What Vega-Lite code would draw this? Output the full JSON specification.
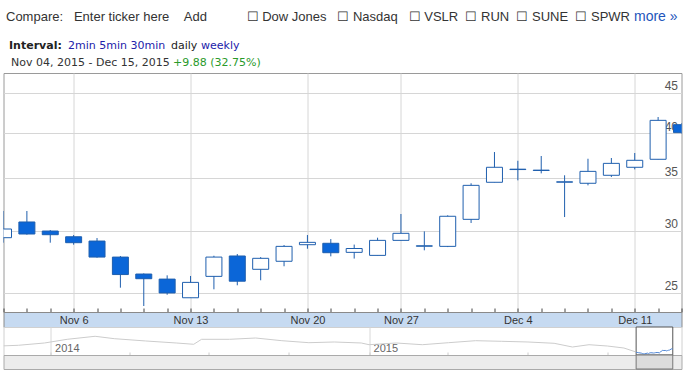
{
  "$schema": "https://vega.github.io/schema/vega-lite/v6.json",
  "background": "white",
  "padding": {"left": 2.5, "top": 8, "right": 0, "bottom": 0},
  "config": {
    "view": {"stroke": null},
    "font": "Liberation Sans",
    "axis": {"labelFont": "Liberation Sans", "titleFont": "DejaVu Sans", "titleFontWeight": "normal", "titleAnchor": null, "titleAlign": "left", "titleBaseline": "alphabetic", "titleAngle": 0}
  },
  "datasets": {
    "candles": [
      {"date": "2015-11-03", "open": 29.41, "high": 31.81, "low": 28.98, "close": 30.17},
      {"date": "2015-11-04", "open": 30.80, "high": 31.81, "low": 29.67, "close": 29.73},
      {"date": "2015-11-05", "open": 29.99, "high": 30.08, "low": 28.98, "close": 29.67},
      {"date": "2015-11-06", "open": 29.49, "high": 29.64, "low": 28.81, "close": 28.98},
      {"date": "2015-11-09", "open": 29.12, "high": 29.38, "low": 27.73, "close": 27.78},
      {"date": "2015-11-10", "open": 27.78, "high": 27.87, "low": 25.39, "close": 26.39},
      {"date": "2015-11-11", "open": 26.43, "high": 26.48, "low": 24.06, "close": 26.07},
      {"date": "2015-11-12", "open": 26.04, "high": 26.33, "low": 24.87, "close": 25.00},
      {"date": "2015-11-13", "open": 24.65, "high": 26.28, "low": 24.65, "close": 25.79},
      {"date": "2015-11-16", "open": 26.25, "high": 27.89, "low": 25.27, "close": 27.78},
      {"date": "2015-11-17", "open": 27.87, "high": 28.03, "low": 25.57, "close": 25.88},
      {"date": "2015-11-18", "open": 26.80, "high": 27.78, "low": 25.95, "close": 27.68},
      {"date": "2015-11-19", "open": 27.44, "high": 28.78, "low": 27.04, "close": 28.67},
      {"date": "2015-11-20", "open": 28.81, "high": 29.64, "low": 28.47, "close": 29.01},
      {"date": "2015-11-23", "open": 28.93, "high": 29.29, "low": 27.84, "close": 28.14},
      {"date": "2015-11-24", "open": 28.17, "high": 28.82, "low": 27.66, "close": 28.49},
      {"date": "2015-11-25", "open": 27.92, "high": 29.41, "low": 27.92, "close": 29.18},
      {"date": "2015-11-27", "open": 29.18, "high": 31.53, "low": 29.18, "close": 29.79},
      {"date": "2015-11-30", "open": 28.68, "high": 29.96, "low": 28.34, "close": 28.72},
      {"date": "2015-12-01", "open": 28.67, "high": 31.41, "low": 28.61, "close": 31.32},
      {"date": "2015-12-02", "open": 31.04, "high": 34.51, "low": 30.71, "close": 34.30},
      {"date": "2015-12-03", "open": 34.61, "high": 37.83, "low": 34.61, "close": 36.17},
      {"date": "2015-12-04", "open": 35.93, "high": 36.87, "low": 34.81, "close": 35.97},
      {"date": "2015-12-07", "open": 35.83, "high": 37.39, "low": 35.53, "close": 35.87},
      {"date": "2015-12-08", "open": 34.62, "high": 35.33, "low": 31.25, "close": 34.66},
      {"date": "2015-12-09", "open": 34.51, "high": 37.09, "low": 34.30, "close": 35.74},
      {"date": "2015-12-10", "open": 35.33, "high": 37.17, "low": 35.15, "close": 36.59},
      {"date": "2015-12-11", "open": 36.17, "high": 37.72, "low": 35.95, "close": 36.92},
      {"date": "2015-12-14", "open": 37.03, "high": 41.93, "low": 37.03, "close": 41.52},
      {"date": "2015-12-15", "open": 41.00, "high": 41.20, "low": 39.90, "close": 40.05}
    ],
    "history": [
      {"date": "2013-11-08", "close": 50.2},
      {"date": "2013-11-25", "close": 52.0},
      {"date": "2013-12-25", "close": 59.1},
      {"date": "2014-01-20", "close": 70.5},
      {"date": "2014-02-21", "close": 79.8},
      {"date": "2014-03-15", "close": 72.4},
      {"date": "2014-04-20", "close": 65.3},
      {"date": "2014-05-25", "close": 59.1},
      {"date": "2014-06-14", "close": 55.1},
      {"date": "2014-06-23", "close": 70.5},
      {"date": "2014-07-25", "close": 70.5},
      {"date": "2014-08-24", "close": 74.5},
      {"date": "2014-09-23", "close": 66.2},
      {"date": "2014-10-24", "close": 60.0},
      {"date": "2014-11-22", "close": 62.2},
      {"date": "2014-12-23", "close": 59.1},
      {"date": "2015-01-01", "close": 53.8},
      {"date": "2015-02-01", "close": 59.1},
      {"date": "2015-03-03", "close": 53.8},
      {"date": "2015-04-02", "close": 60.0},
      {"date": "2015-05-03", "close": 66.2},
      {"date": "2015-06-02", "close": 64.3},
      {"date": "2015-07-02", "close": 62.2},
      {"date": "2015-08-01", "close": 58.2},
      {"date": "2015-08-22", "close": 46.7},
      {"date": "2015-09-10", "close": 53.8},
      {"date": "2015-10-01", "close": 49.8},
      {"date": "2015-10-20", "close": 43.6},
      {"date": "2015-11-02", "close": 32.0}
    ]
  },
  "bounds": "flush",
  "spacing": 0,
  "vconcat": [
    {
      "width": 678,
      "height": 239,
      "view": {"stroke": "#9a9a9a"},
      "data": {"name": "candles"},
      "encoding": {
        "x": {
          "field": "date", "type": "ordinal",
          "scale": {"type": "point", "padding": 0},
          "axis": {
            "title": "more »", "titleX": 630, "titleY": -292,
            "titleColor": "#2255bb", "titleFont": "Liberation Sans", "titleFontSize": 14,
            "labels": false, "domain": false, "ticks": true, "tickSize": -4, "tickColor": "#444444",
            "grid": true, "gridColor": "#d6d6d6",
            "gridOpacity": {"condition": {"test": "utcFormat(toDate(datum.value), '%a') == 'Fri'", "value": 1}, "value": 0}
          }
        }
      },
      "layer": [
        {
          "mark": {"type": "rule", "color": "#1f5fae", "strokeWidth": 1, "clip": true},
          "encoding": {
            "y": {
              "field": "low", "type": "quantitative",
              "scale": {"type": "log", "domain": [23.64, 47.72], "nice": false, "zero": false},
              "axis": {
                "orient": "right", "values": [25, 30, 35, 40, 45], "format": "d",
                "title": "+9.88 (32.75%)", "titleX": -509, "titleY": -8,
                "titleColor": "#2a9a2a", "titleFontSize": 11,
                "labelAlign": "right", "labelPadding": -4, "labelBaseline": "bottom",
                "labelFontSize": 12, "labelColor": "#555555",
                "ticks": false, "domain": false, "grid": true, "gridColor": "#d6d6d6"
              }
            },
            "y2": {"field": "high"}
          }
        },
        {
          "mark": {"type": "bar", "size": 16, "stroke": "#1f5fae", "strokeWidth": 1, "clip": true},
          "encoding": {
            "y": {"field": "open", "type": "quantitative"},
            "y2": {"field": "close"},
            "fill": {"condition": {"test": "datum.close > datum.open", "value": "white"}, "value": "#0b66d8"}
          }
        }
      ]
    },
    {
      "width": 678,
      "height": 15,
      "view": {"fill": "#c6daf1", "stroke": "#8a8a8a"},
      "data": {"name": "candles"},
      "mark": {"type": "point", "opacity": 0, "size": 0, "strokeWidth": 0, "clip": true},
      "encoding": {
        "x": {
          "field": "date", "type": "ordinal",
          "scale": {"type": "point", "padding": 0},
          "axis": {
            "orient": "top", "domain": false, "ticks": false, "grid": false,
            "labelAngle": 0, "labelBaseline": "middle", "labelPadding": -8,
            "labelFontSize": 11, "labelColor": "#333333",
            "labelExpr": "utcFormat(toDate(datum.value), '%a') == 'Fri' ? utcFormat(toDate(datum.value), '%b %-d') : ''",
            "title": "Interval:", "titleX": 5, "titleY": -264,
            "titleColor": "#222222", "titleFontSize": 11, "titleFontWeight": "bold"
          }
        },
        "y": {
          "datum": 0, "type": "quantitative",
          "axis": {
            "labels": false, "ticks": false, "domain": false, "grid": false,
            "title": "weekly", "titleX": 197, "titleY": -264,
            "titleColor": "#2222aa", "titleFontSize": 11
          }
        }
      }
    },
    {
      "width": 678,
      "height": 28,
      "view": {"fill": "white", "stroke": "#d0d0d0"},
      "layer": [
        {
          "data": {"name": "history"},
          "mark": {"type": "line", "color": "#cccccc", "strokeWidth": 1, "clip": true},
          "encoding": {
            "x": {
              "field": "date", "type": "temporal",
              "scale": {"type": "utc", "domain": [{"year": 2013, "month": 11, "date": 8, "utc": true}, {"year": 2015, "month": 12, "date": 25, "utc": true}]},
              "axis": {
                "orient": "bottom", "domain": false,
                "tickCount": {"interval": "month", "step": 3},
                "tickSize": -3, "tickColor": "#cccccc",
                "grid": true, "gridColor": "#d8d8d8",
                "gridOpacity": {"condition": {"test": "utcmonth(datum.value) == 0", "value": 1}, "value": 0},
                "labelExpr": "utcmonth(datum.value) == 0 ? utcFormat(datum.value, '%Y') : ''",
                "labelAlign": "left", "labelOffset": 4, "labelBaseline": "alphabetic", "labelPadding": -1,
                "labelFlush": false, "labelOverlap": false,
                "labelFontSize": 11, "labelColor": "#666666",
                "title": "2min 5min 30min", "titleX": 64, "titleY": -307,
                "titleColor": "#2222aa", "titleFontSize": 11
              }
            },
            "y": {
              "field": "close", "type": "quantitative",
              "scale": {"domain": [22, 108.5], "zero": false, "nice": false},
              "axis": {
                "labels": false, "ticks": false, "domain": false, "grid": false,
                "title": "daily", "titleX": 167, "titleY": -279,
                "titleColor": "#222222", "titleFontSize": 11
              }
            }
          }
        },
        {
          "data": {"name": "candles"},
          "mark": {"type": "rect", "fill": "white", "stroke": "#555555", "strokeWidth": 1},
          "encoding": {
            "x": {"field": "date", "type": "temporal", "aggregate": "min"},
            "x2": {"field": "date", "aggregate": "max"}
          }
        },
        {
          "data": {"name": "candles"},
          "mark": {"type": "line", "color": "#4f86d6", "strokeWidth": 1},
          "encoding": {
            "x": {"field": "date", "type": "temporal"},
            "y": {"field": "close", "type": "quantitative"}
          }
        }
      ]
    },
    {
      "width": 678,
      "height": 14,
      "view": {"fill": "#ececec", "stroke": "#aaaaaa"},
      "data": {"name": "candles"},
      "mark": {"type": "rect", "fill": "#dcdcdc", "stroke": "#777777"},
      "encoding": {
        "x": {
          "field": "date", "type": "temporal", "aggregate": "min",
          "scale": {"type": "utc", "domain": [{"year": 2013, "month": 11, "date": 8, "utc": true}, {"year": 2015, "month": 12, "date": 25, "utc": true}]},
          "axis": {
            "labels": false, "ticks": false, "domain": false, "grid": false,
            "title": "Compare:\u00a0\u00a0\u00a0Enter ticker here\u00a0\u00a0\u00a0\u00a0Add\u00a0\u00a0\u00a0\u00a0\u00a0\u00a0\u00a0\u00a0\u00a0\u00a0\u00a0☐\u00a0Dow Jones\u00a0\u00a0\u00a0☐\u00a0Nasdaq\u00a0\u00a0\u00a0☐\u00a0VSLR\u00a0\u00a0☐\u00a0RUN\u00a0\u00a0☐\u00a0SUNE\u00a0\u00a0☐\u00a0SPWR",
            "titleX": 2, "titleY": -349,
            "titleColor": "#333333", "titleFont": "Liberation Sans", "titleFontSize": 13
          }
        },
        "x2": {"field": "date", "aggregate": "max"},
        "y": {
          "datum": 0, "type": "quantitative",
          "scale": {"domain": [0, 1], "nice": false, "zero": false},
          "axis": {
            "labels": false, "ticks": false, "domain": false, "grid": false,
            "title": "Nov 04, 2015 - Dec 15, 2015", "titleX": 7, "titleY": -290,
            "titleColor": "#333333", "titleFontSize": 11
          }
        },
        "y2": {"datum": 1}
      }
    }
  ]
}
